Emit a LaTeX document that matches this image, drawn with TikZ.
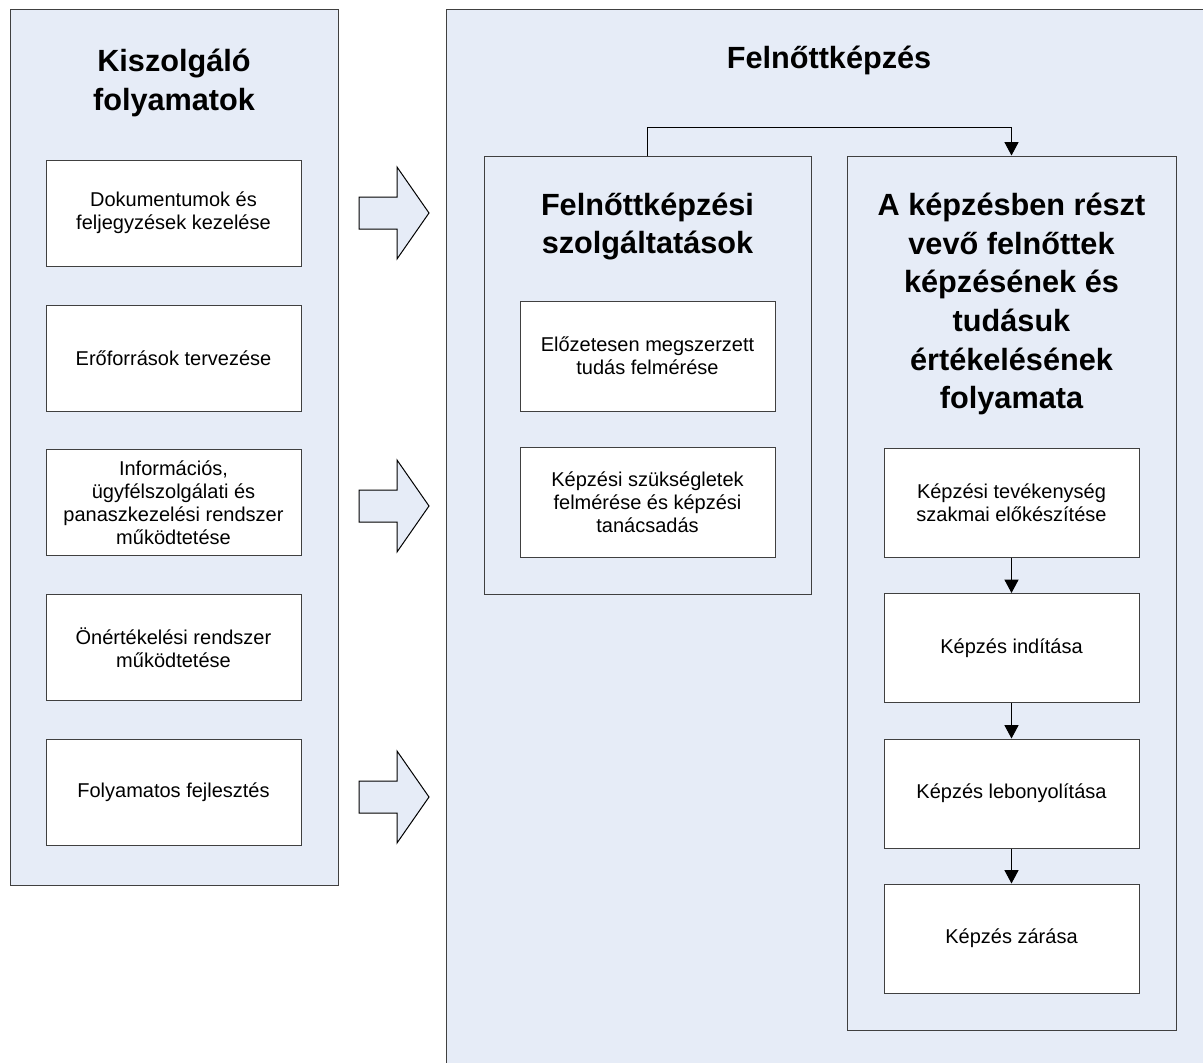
\documentclass[tikz,border=0pt]{standalone}
\usepackage{fontspec}
\setmainfont{Liberation Sans}
\usetikzlibrary{arrows.meta}
\definecolor{paneblue}{RGB}{230,236,247}

\tikzset{
  panel/.style={draw=black!75, fill=paneblue, line width=0.75pt},
  stepbox/.style={draw=black!75, fill=white, line width=0.75pt, align=center, inner sep=0pt,
    minimum width=191.25pt, font=\fontsize{15}{17.3}\selectfont},
  headline/.style={align=center, inner sep=0pt, font=\fontsize{23}{29}\selectfont\bfseries},
  flow/.style={-{Triangle[width=10.5pt,length=10pt]}, line width=0.75pt},
  bigarrow/.style={draw=black, fill=paneblue, line width=0.75pt, line join=miter}
}

\begin{document}
\begin{tikzpicture}[x=0.75pt,y=0.75pt,yscale=-1,xscale=1]
\useasboundingbox (0,0) rectangle (1203,1063);

%Shape: Rectangle [left panel]
\draw[panel] (10,10) rectangle (338,885);
%Shape: Rectangle [right panel, runs off the page]
\draw[panel] (446,10) rectangle (1213,1080);

% Text Node
\node[headline] (suptitle) at (174,83) {Kiszolgáló\\folyamatok};
% Text Node
\node[headline] (maintitle) at (829,60) {Felnőttképzés};

%Left boxes
\node[stepbox, minimum height=79.5pt] (doc) at (173.5,213) {Dokumentumok és\\feljegyzések kezelése};
\node[stepbox, minimum height=79.5pt] (res) at (173.5,358) {Erőforrások tervezése};
\node[stepbox, minimum height=79.5pt] (info) at (173.5,502.5) {Információs,\\ügyfélszolgálati és\\panaszkezelési rendszer\\működtetése};
\node[stepbox, minimum height=79.5pt] (self) at (173.5,647.5) {Önértékelési rendszer\\működtetése};
\node[stepbox, minimum height=79.5pt] (dev) at (173.5,792.5) {Folyamatos fejlesztés};

%Block arrows
\foreach \y in {213,506,797}{
  \draw[bigarrow] (359,\y-16) -- (397,\y-16) -- (397,\y-46) -- (429,\y)
    -- (397,\y+46) -- (397,\y+16) -- (359,\y+16) -- cycle;
}

%Inner panels
\node[panel, minimum width=245.25pt, minimum height=328.5pt, inner sep=0pt] (svc) at (647.5,375) {};
\node[panel, minimum width=246.75pt, minimum height=655.5pt, inner sep=0pt] (proc) at (1011.5,593) {};

% Text Node
\node[headline] (svctitle) at (647.5,226.5) {Felnőttképzési\\szolgáltatások};
% Text Node
\node[headline] (proctitle) at (1011.5,304) {A képzésben részt\\vevő felnőttek\\képzésének és\\tudásuk\\értékelésének\\folyamata};

%Service boxes
\node[stepbox, minimum height=82.5pt] (prior) at (647.5,356) {Előzetesen megszerzett\\tudás felmérése};
\node[stepbox, minimum height=82.5pt] (needs) at (647.5,502) {Képzési szükségletek\\felmérése és képzési\\tanácsadás};

%Process boxes
\node[stepbox, minimum height=81.75pt] (prep) at (1011.5,502.5) {Képzési tevékenység\\szakmai előkészítése};
\node[stepbox, minimum height=81.75pt] (start) at (1011.5,648) {Képzés indítása};
\node[stepbox, minimum height=81.75pt] (run) at (1011.5,793.5) {Képzés lebonyolítása};
\node[stepbox, minimum height=81.75pt] (close) at (1011.5,938.5) {Képzés zárása};

%Connectors
\draw[flow] (svc.north) -- ++(0,-28) -| (proc.north);
\draw[flow] (prep) -- (start);
\draw[flow] (start) -- (run);
\draw[flow] (run) -- (close);

\end{tikzpicture}
\end{document}
